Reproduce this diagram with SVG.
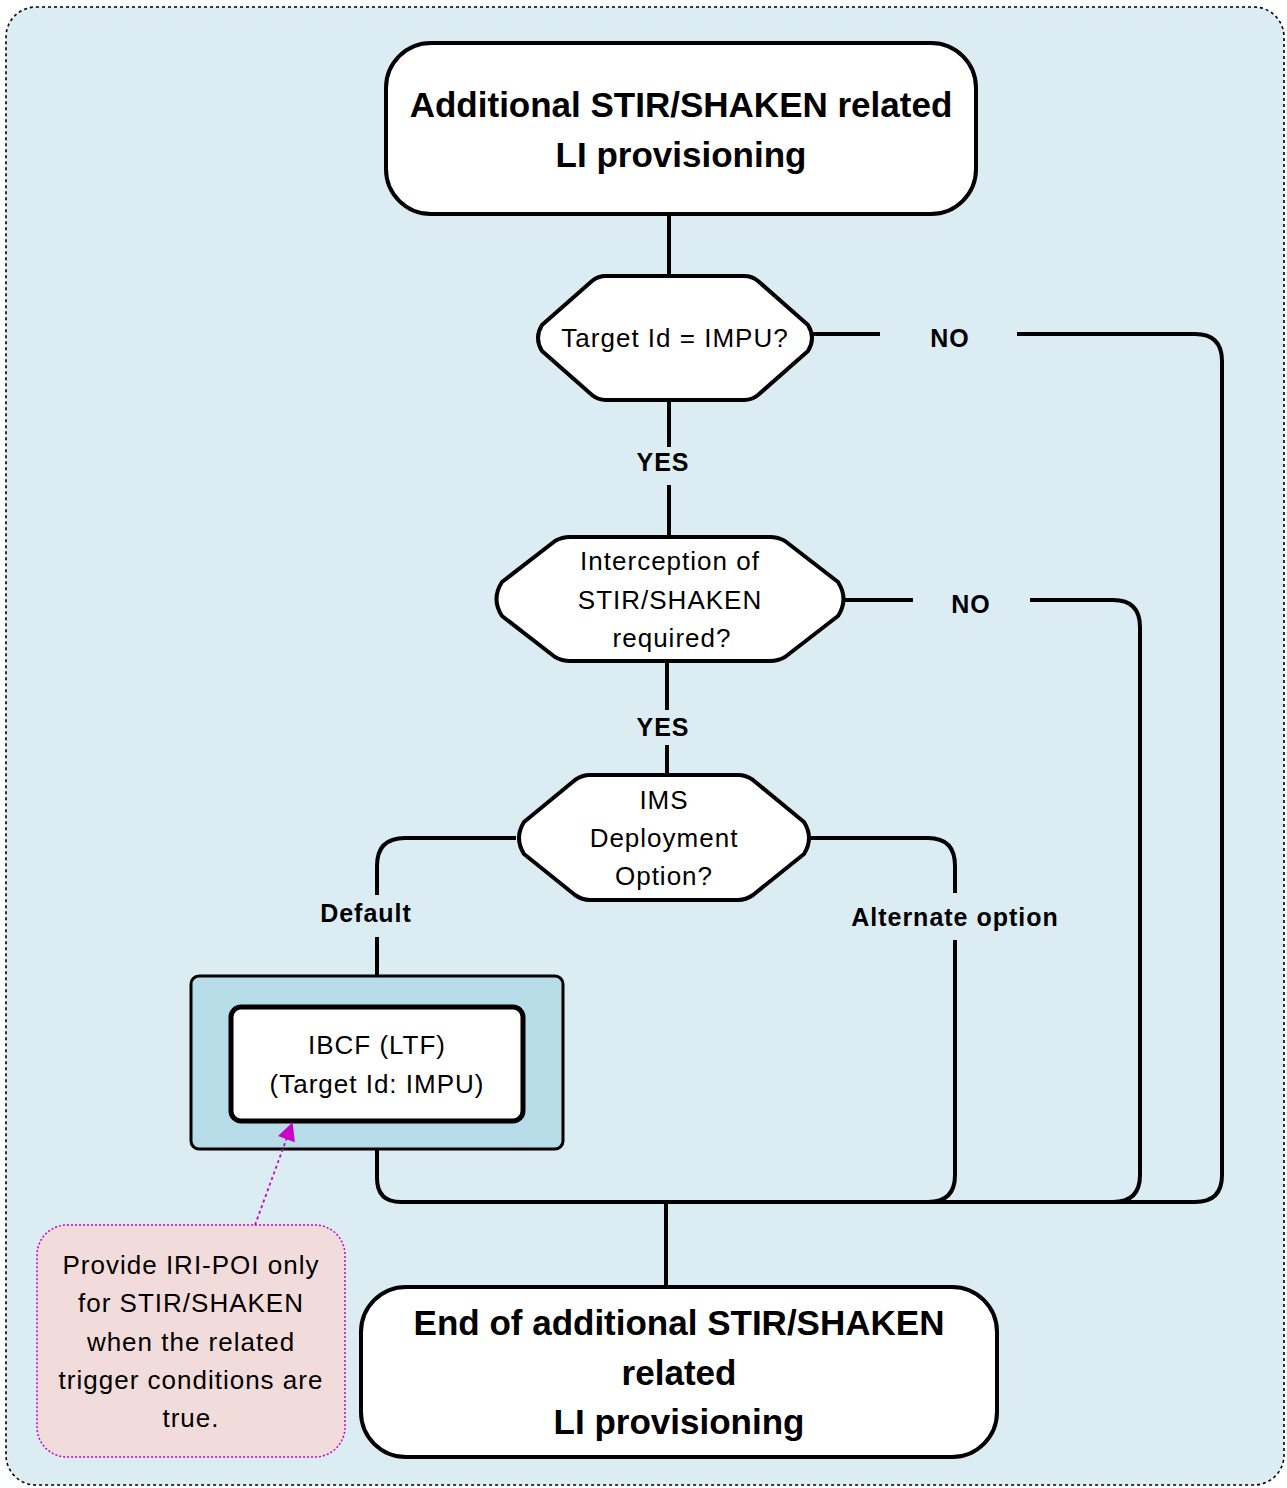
<svg xmlns="http://www.w3.org/2000/svg" width="1287" height="1488" viewBox="0 0 1287 1488">
<defs>
<style>
.bg{fill:#dbedf3;stroke:#000;stroke-width:1.6;stroke-dasharray:3 3}
.term{fill:#fff;stroke:#000;stroke-width:4}
.dec{fill:#fff;stroke:#000;stroke-width:4;stroke-linejoin:round}
.ln{fill:none;stroke:#000;stroke-width:4}
.t{font-family:"Liberation Sans",Arial,sans-serif;font-size:26px;letter-spacing:1px;fill:#000;text-anchor:middle}
.tb{font-family:"Liberation Sans",Arial,sans-serif;font-size:35px;font-weight:bold;fill:#000;text-anchor:middle}
.lb{font-family:"Liberation Sans",Arial,sans-serif;font-size:25px;letter-spacing:1px;font-weight:bold;fill:#000;text-anchor:middle}
</style>
<marker id="ah" viewBox="0 0 10 10" refX="9" refY="5" markerWidth="20" markerHeight="18" markerUnits="userSpaceOnUse" orient="auto">
<path d="M0,0 L10,5 L0,10 z" fill="#cc00cc"/>
</marker>
</defs>
<rect class="bg" x="6" y="7" width="1278" height="1478" rx="30"/>
<g id="connectors">
<path class="ln" d="M669,214 V276"/>
<path class="ln" d="M812,334 H880"/>
<path class="ln" d="M1017,334 H1195 Q1222,334 1222,361 V1175 Q1222,1202 1195,1202"/>
<path class="ln" d="M669,400 V447"/>
<path class="ln" d="M669,485 V537"/>
<path class="ln" d="M845,600 H913"/>
<path class="ln" d="M1030,600 H1113 Q1140,600 1140,627 V1175 Q1140,1202 1113,1202"/>
<path class="ln" d="M667,661 V710"/>
<path class="ln" d="M667,745 V775"/>
<path class="ln" d="M516,838 H405 Q377,838 377,866 V895"/>
<path class="ln" d="M377,937 V976"/>
<path class="ln" d="M811,838 H928 Q955,838 955,866 V893"/>
<path class="ln" d="M955,940 V1175 Q955,1202 928,1202"/>
<path class="ln" d="M377,1149 V1178 Q377,1202 401,1202 H1195"/>
<path class="ln" d="M666,1202 V1287"/>
<text class="lb" x="950" y="347">NO</text>
<text class="lb" x="663" y="471">YES</text>
<text class="lb" x="971" y="613">NO</text>
<text class="lb" x="663" y="736">YES</text>
<text class="lb" x="366" y="922">Default</text>
<text class="lb" x="955" y="926">Alternate option</text>
</g>
<g id="start">
<rect class="term" x="386" y="43" width="590" height="171" rx="45"/>
<text class="tb" x="681" y="117">Additional STIR/SHAKEN related</text>
<text class="tb" x="681" y="167">LI provisioning</text>
</g>
<g id="dec1">
<path class="dec" d="M606,276 H744 Q752,276 758,281 L808,325 Q816,338 808,351 L758,395 Q752,400 744,400 H606 Q598,400 592,395 L542,351 Q534,338 542,325 L592,281 Q598,276 606,276 Z"/>
<text class="t" x="675" y="347">Target Id = IMPU?</text>
</g>
<g id="dec2">
<path class="dec" d="M570,537 H770 Q778,537 785,541 L838,582 Q849,599 838,616 L785,657 Q778,661 770,661 H570 Q562,661 555,657 L502,616 Q491,599 502,582 L555,541 Q562,537 570,537 Z"/>
<text class="t" x="670" y="570">Interception of</text>
<text class="t" x="670" y="609">STIR/SHAKEN</text>
<text class="t" x="672" y="647">required?</text>
</g>
<g id="dec3">
<path class="dec" d="M590,775 H738 Q746,775 753,780 L804,822 Q814,838 804,854 L753,895 Q746,900 738,900 H590 Q582,900 575,895 L524,854 Q514,838 524,822 L575,780 Q582,775 590,775 Z"/>
<text class="t" x="664" y="809">IMS</text>
<text class="t" x="664" y="847">Deployment</text>
<text class="t" x="664" y="885">Option?</text>
</g>
<g id="ibcf">
<rect x="191" y="976" width="372" height="173" rx="8" fill="#b7dde8" stroke="#000" stroke-width="3"/>
<rect x="231" y="1007" width="292" height="114" rx="10" fill="#fff" stroke="#000" stroke-width="5"/>
<text class="t" x="377" y="1054">IBCF (LTF)</text>
<text class="t" x="377" y="1093">(Target Id: IMPU)</text>
</g>
<g id="end">
<rect class="term" x="361" y="1287" width="636" height="170" rx="45"/>
<text class="tb" x="679" y="1335">End of additional STIR/SHAKEN</text>
<text class="tb" x="679" y="1385">related</text>
<text class="tb" x="679" y="1434">LI provisioning</text>
</g>
<g id="note">
<rect x="37" y="1225" width="308" height="232" rx="30" fill="#f2dcdb" stroke="#cc00cc" stroke-width="1.5" stroke-dasharray="2 2"/>
<text class="t" x="191" y="1274">Provide IRI-POI only</text>
<text class="t" x="191" y="1312">for STIR/SHAKEN</text>
<text class="t" x="191" y="1351">when the related</text>
<text class="t" x="191" y="1389">trigger conditions are</text>
<text class="t" x="191" y="1427">true.</text>
</g>
<g id="note-link">
<path d="M255,1225 L292,1124" fill="none" stroke="#cc00cc" stroke-width="1.8" stroke-dasharray="3 3" marker-end="url(#ah)"/>
</g>
</svg>
